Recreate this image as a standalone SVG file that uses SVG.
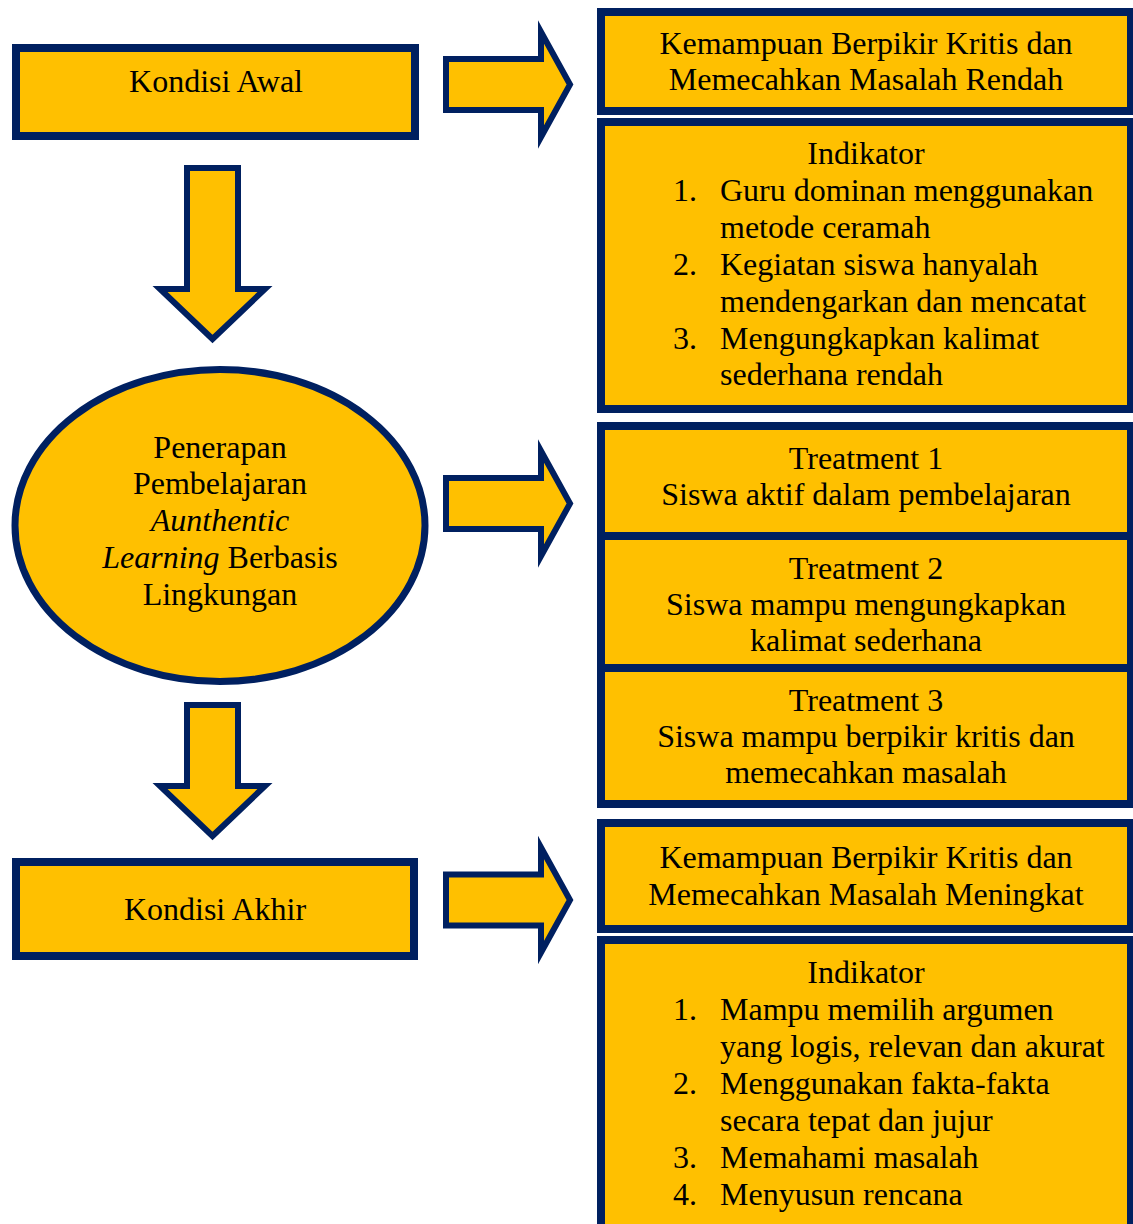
<svg xmlns="http://www.w3.org/2000/svg" width="1133" height="1224" viewBox="0 0 1133 1224">
<style>
.box{fill:#FFC000;stroke:#002060;stroke-width:8}
.ell{fill:#FFC000;stroke:#002060;stroke-width:7}
.arr{fill:#FFC000;stroke:#002060;stroke-width:6;stroke-miterlimit:10}
.t{font-family:"Liberation Serif","Times New Roman",serif;font-size:32px;fill:#000}
.c{text-anchor:middle}
.i{font-style:italic}
</style>
<rect width="1133" height="1224" fill="#FFFFFF"/>
<g id="connectors">
<path class="arr" d="M446,59 H541 V32 L570,84.5 L541,137 V110 H446 Z"/>
<path class="arr" d="M446,478 H541 V451 L570,503.5 L541,556 V529 H446 Z"/>
<path class="arr" d="M446,874.5 H541 V847.5 L570,900 L541,952.5 V925.5 H446 Z"/>
<path class="arr" d="M187,168 H238 V289 H265 L212.5,339 L160,289 H187 Z"/>
<path class="arr" d="M187,705 H238 V786 H265 L212.5,836 L160,786 H187 Z"/>
</g>
<g id="kondisi-awal">
<rect class="box" x="16" y="48" width="399" height="88"/>
<text class="t c" x="216" y="92">Kondisi Awal</text>
</g>
<g id="kemampuan-rendah">
<rect class="box" x="601" y="12" width="530" height="99"/>
<text class="t c" x="866" y="54">Kemampuan Berpikir Kritis dan</text>
<text class="t c" x="866" y="90">Memecahkan Masalah Rendah</text>
</g>
<g id="indikator-awal">
<rect class="box" x="601" y="122" width="530" height="287"/>
<text class="t c" x="866" y="164">Indikator</text>
<text class="t" x="673" y="201">1.</text>
<text class="t" x="720" y="201">Guru dominan menggunakan</text>
<text class="t" x="720" y="238">metode ceramah</text>
<text class="t" x="673" y="275">2.</text>
<text class="t" x="720" y="275">Kegiatan siswa hanyalah</text>
<text class="t" x="720" y="312">mendengarkan dan mencatat</text>
<text class="t" x="673" y="349">3.</text>
<text class="t" x="720" y="349">Mengungkapkan kalimat</text>
<text class="t" x="720" y="385">sederhana rendah</text>
</g>
<g id="penerapan">
<ellipse class="ell" cx="220" cy="525.5" rx="205" ry="156"/>
<text class="t c" x="220" y="458">Penerapan</text>
<text class="t c" x="220" y="494">Pembelajaran</text>
<text class="t c i" x="220" y="531">Aunthentic</text>
<text class="t c" x="220" y="568"><tspan class="i">Learning</tspan> Berbasis</text>
<text class="t c" x="220" y="605">Lingkungan</text>
</g>
<g id="treatment-1">
<rect class="box" x="601" y="426" width="530" height="110"/>
<text class="t c" x="866" y="469">Treatment 1</text>
<text class="t c" x="866" y="505">Siswa aktif dalam pembelajaran</text>
</g>
<g id="treatment-2">
<rect class="box" x="601" y="536" width="530" height="132"/>
<text class="t c" x="866" y="579">Treatment 2</text>
<text class="t c" x="866" y="615">Siswa mampu mengungkapkan</text>
<text class="t c" x="866" y="651">kalimat sederhana</text>
</g>
<g id="treatment-3">
<rect class="box" x="601" y="668" width="530" height="136"/>
<text class="t c" x="866" y="711">Treatment 3</text>
<text class="t c" x="866" y="747">Siswa mampu berpikir kritis dan</text>
<text class="t c" x="866" y="783">memecahkan masalah</text>
</g>
<g id="kondisi-akhir">
<rect class="box" x="16" y="862" width="398" height="94"/>
<text class="t c" x="215" y="920">Kondisi Akhir</text>
</g>
<g id="kemampuan-meningkat">
<rect class="box" x="601" y="823" width="530" height="106"/>
<text class="t c" x="866" y="868">Kemampuan Berpikir Kritis dan</text>
<text class="t c" x="866" y="905">Memecahkan Masalah Meningkat</text>
</g>
<g id="indikator-akhir">
<rect class="box" x="601" y="940" width="530" height="292"/>
<text class="t c" x="866" y="983">Indikator</text>
<text class="t" x="673" y="1020">1.</text>
<text class="t" x="720" y="1020">Mampu memilih argumen</text>
<text class="t" x="720" y="1057">yang logis, relevan dan akurat</text>
<text class="t" x="673" y="1094">2.</text>
<text class="t" x="720" y="1094">Menggunakan fakta-fakta</text>
<text class="t" x="720" y="1131">secara tepat dan jujur</text>
<text class="t" x="673" y="1168">3.</text>
<text class="t" x="720" y="1168">Memahami masalah</text>
<text class="t" x="673" y="1205">4.</text>
<text class="t" x="720" y="1205">Menyusun rencana</text>
</g>
</svg>
